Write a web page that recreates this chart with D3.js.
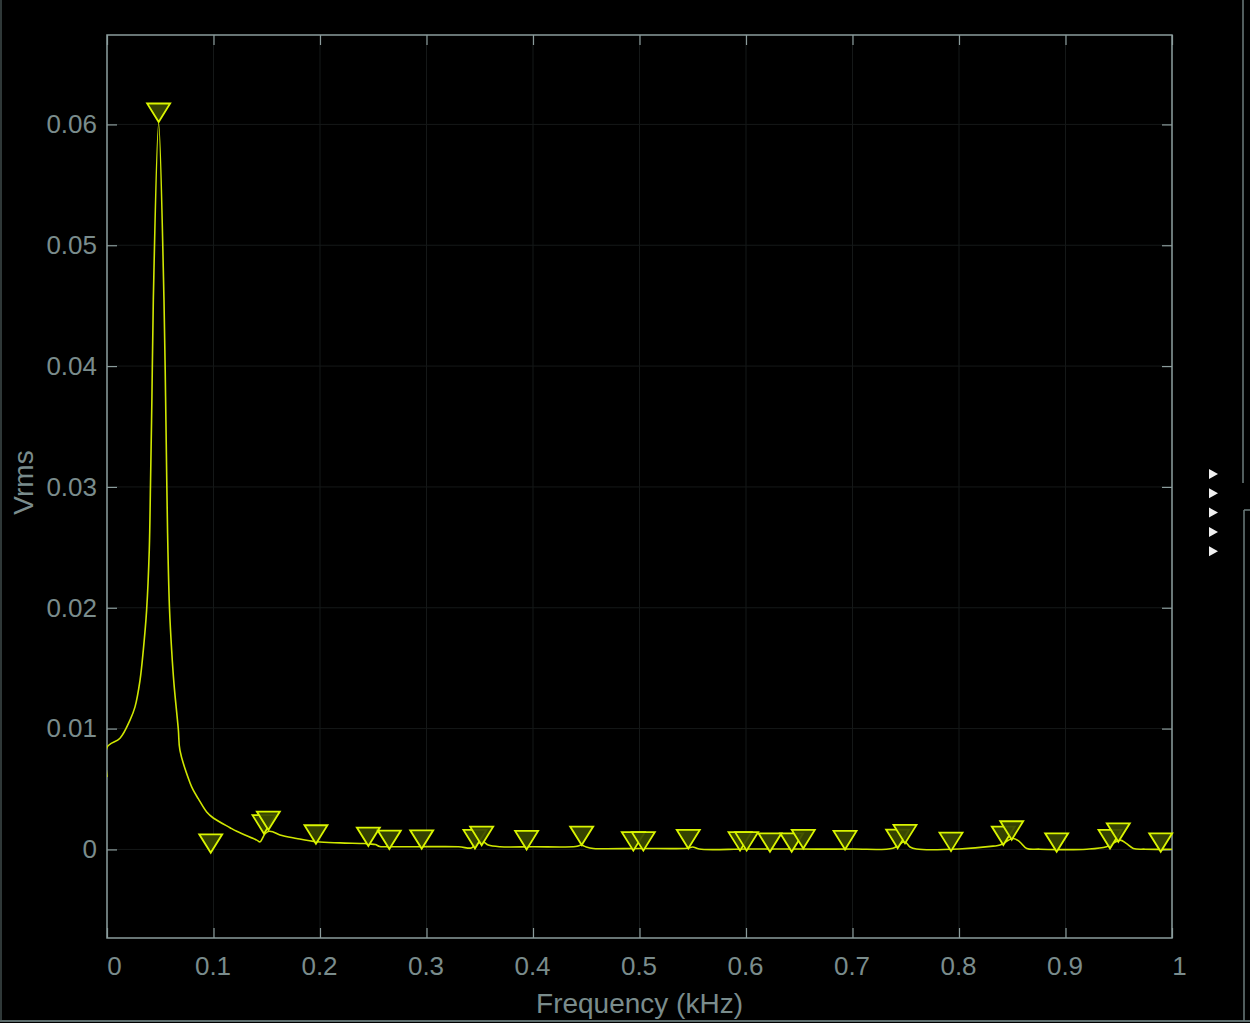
<!DOCTYPE html>
<html>
<head>
<meta charset="utf-8">
<script src="https://cdn.jsdelivr.net/npm/d3@7"></script>
<style>
  html, body { margin: 0; padding: 0; background: #000; }
  svg { display: block; }
</style>
</head>
<body>
<svg id="chart" width="1250" height="1023"></svg>
<script>
// ---- data ----
const freq = [0, 0.0003, 0.0122, 0.0216, 0.0263, 0.031, 0.0341, 0.0372, 0.0397, 0.0408,
  0.0422, 0.0435, 0.0485, 0.0535, 0.0550, 0.0562, 0.0572, 0.0587, 0.0607, 0.0629,
  0.067, 0.0685, 0.078, 0.081, 0.0857, 0.0936, 0.0998, 0.1155, 0.1218, 0.1406,
  0.1437, 0.1484, 0.152, 0.156, 0.1624, 0.178, 0.197, 0.219, 0.242, 0.247,
  0.252, 0.256, 0.262, 0.29, 0.33, 0.342, 0.3455, 0.353, 0.358, 0.369,
  0.40, 0.44, 0.4455, 0.45, 0.4567, 0.50, 0.545, 0.55, 0.556, 0.60,
  0.65, 0.70, 0.738, 0.749, 0.754, 0.76, 0.80, 0.832, 0.8385, 0.8507,
  0.857, 0.8636, 0.876, 0.92, 0.9385, 0.9512, 0.957, 0.9637, 0.975, 1.0];
const vrms = [0.0060, 0.0085, 0.0092, 0.0107, 0.0118, 0.0140, 0.0165, 0.0198, 0.0248, 0.0300,
  0.0375, 0.0455, 0.0601, 0.0455, 0.0375, 0.0300, 0.0248, 0.0199, 0.0165, 0.0137,
  0.0099, 0.0082, 0.0055, 0.0049, 0.0042, 0.0031, 0.0026, 0.0018, 0.0015, 0.00077,
  0.00063, 0.0013, 0.0015, 0.00145, 0.0012, 0.00091, 0.00063, 0.00054, 0.00049, 0.00045,
  0.0004, 0.00024, 0.00022, 0.00022, 0.00022, 0.00012, 0.00036, 0.00063, 0.00036, 0.00022,
  0.00022, 0.00024, 0.00036, 0.0002, 0.00008, 0.00008, 0.0001, 0.0002, 0.00003, 0.00003,
  0.00003, 0.00003, 0.0001, 0.00063, 0.0002, 0.00003, 0.00003, 0.00027, 0.00036, 0.00091,
  0.00063, 0.00008, 0.00002, 0.00002, 0.00022, 0.00077, 0.0005, 0.00008, 0.00002, 0.00001];

// peak markers
const peakFreq = [0.0485, 0.0974, 0.1474, 0.1515, 0.1962, 0.2454, 0.2651, 0.2955, 0.3455, 0.3518,
  0.394, 0.4457, 0.4942, 0.5036, 0.5458, 0.5944, 0.6006, 0.6225, 0.6429, 0.6538,
  0.693, 0.7424, 0.7493, 0.7925, 0.8416, 0.8495, 0.8917, 0.9418, 0.9496, 0.9894];
const peakVrms = [0.0602, -0.00028, 0.0013, 0.0016, 0.00047, 0.00028, 0.00003, 0.00005, 0.00008, 0.00035,
  0, 0.00036, -0.0001, -0.0001, 0.00008, -0.0001, -0.0001, -0.0002, -0.0002, 0.00008,
  0, 0.0001, 0.0005, -0.00014, 0.00036, 0.0008, -0.0002, 0.00008, 0.00063, -0.0002];

const xTicks = [0, 0.1, 0.2, 0.3, 0.4, 0.5, 0.6, 0.7, 0.8, 0.9, 1];
const xTickLabels = ["0", "0.1", "0.2", "0.3", "0.4", "0.5", "0.6", "0.7", "0.8", "0.9", "1"];
const yTicks = [0, 0.01, 0.02, 0.03, 0.04, 0.05, 0.06];
const yTickLabels = ["0", "0.01", "0.02", "0.03", "0.04", "0.05", "0.06"];
const xLabel = "Frequency (kHz)";
const yLabel = "Vrms";

// ---- layout ----
const L = 107, R = 1172, T = 35, B = 938;
const svg = d3.select("#chart");
const x = d3.scaleLinear().domain([0, 1]).range([L, R]);
const y = d3.scaleLinear().domain([-0.00733, 0.0674]).range([B, T]);

const axisCol = "#8b9c9c", textCol = "#7a8c8c", gridCol = "#151818";
const font = "'Liberation Sans', Arial, sans-serif";

svg.append("rect").attr("width", 1250).attr("height", 1023).attr("fill", "#000");

// window frame bits
svg.append("line").attr("x1", 1).attr("x2", 1).attr("y1", 0).attr("y2", 1021)
  .attr("stroke", "#2f3838").attr("stroke-width", 2);
svg.append("line").attr("x1", 0).attr("x2", 1250).attr("y1", 1021).attr("y2", 1021)
  .attr("stroke", "#5c6c6c").attr("stroke-width", 2);
svg.append("path").attr("d", "M1243,0V483 M1244,510V1021 M1244,510H1250")
  .attr("fill", "none").attr("stroke", "#6c7c7c").attr("stroke-width", 1.5);
const arrows = svg.append("g");
for (let i = 0; i < 5; i++) {
  const cy = 474 + i * 19.3;
  arrows.append("path").attr("d", `M1209,${cy - 5}L1218,${cy}L1209,${cy + 5}Z`).attr("fill", "#f0f0f0");
}

// grid
const grid = svg.append("g");
grid.selectAll(".gx").data(xTicks).join("line")
  .attr("x1", d => x(d)).attr("x2", d => x(d)).attr("y1", T).attr("y2", B)
  .attr("stroke", gridCol).attr("stroke-width", 1);
grid.selectAll(".gy").data(yTicks).join("line")
  .attr("x1", L).attr("x2", R).attr("y1", d => y(d)).attr("y2", d => y(d))
  .attr("stroke", gridCol).attr("stroke-width", 1);

// axes (ticks inward on all four sides)
function styleAxis(g) {
  g.select(".domain").remove();
  g.selectAll(".tick line").attr("stroke", axisCol).attr("stroke-width", 1.2);
  g.selectAll(".tick text").attr("fill", textCol).style("font-family", font).style("font-size", "26px");
}
svg.append("g").attr("transform", `translate(0,${B})`)
  .call(d3.axisBottom(x).tickValues(xTicks).tickSizeInner(-10).tickSizeOuter(0).tickPadding(19)
    .tickFormat((d, i) => xTickLabels[i]))
  .call(styleAxis)
  .call(g => g.selectAll(".tick text").attr("dx", (d, i) => (i === 0 || i === xTicks.length - 1) ? 7 : -1));
svg.append("g").attr("transform", `translate(0,${T})`)
  .call(d3.axisTop(x).tickValues(xTicks).tickSizeInner(-10).tickSizeOuter(0).tickFormat(""))
  .call(styleAxis);
svg.append("g").attr("transform", `translate(${L},0)`)
  .call(d3.axisLeft(y).tickValues(yTicks).tickSizeInner(-10).tickSizeOuter(0).tickPadding(10)
    .tickFormat((d, i) => yTickLabels[i]))
  .call(styleAxis);
svg.append("g").attr("transform", `translate(${R},0)`)
  .call(d3.axisRight(y).tickValues(yTicks).tickSizeInner(-10).tickSizeOuter(0).tickFormat(""))
  .call(styleAxis);

// box
svg.append("rect").attr("x", L).attr("y", T).attr("width", R - L).attr("height", B - T)
  .attr("fill", "none").attr("stroke", axisCol).attr("stroke-width", 1.5);

// axis labels
svg.append("text").attr("x", (L + R) / 2).attr("y", 1013).attr("text-anchor", "middle")
  .attr("fill", textCol).style("font-family", font).style("font-size", "28px").text(xLabel);
svg.append("text").attr("transform", `translate(33,${(T + B) / 2 - 4}) rotate(-90)`)
  .attr("text-anchor", "middle").attr("fill", textCol)
  .style("font-family", font).style("font-size", "28px").text(yLabel);

// spectrum line
const pts = freq.map((f, i) => [f, vrms[i]]);
svg.append("clipPath").attr("id", "plotclip")
  .append("rect").attr("x", L).attr("y", T).attr("width", R - L).attr("height", B - T);
svg.append("path").datum(pts)
  .attr("clip-path", "url(#plotclip)")
  .attr("fill", "none").attr("stroke", "#cfe600").attr("stroke-width", 1.6)
  .attr("stroke-linejoin", "round")
  .attr("d", d3.line().x(d => x(d[0])).y(d => y(d[1])).curve(d3.curveCatmullRom.alpha(0.5)));

// peak markers (downward triangles, apex at the peak)
const peaks = peakFreq.map((f, i) => [f, peakVrms[i]]);
svg.append("g").selectAll("path").data(peaks).join("path")
  .attr("transform", d => `translate(${x(d[0])},${y(d[1])})`)
  .attr("d", "M0,0L-11.5,-18.5L11.5,-18.5Z")
  .attr("fill", "#3a4800").attr("fill-opacity", 0.92)
  .attr("stroke", "#daf500").attr("stroke-width", 1.8).attr("stroke-linejoin", "miter");
</script>
</body>
</html>
